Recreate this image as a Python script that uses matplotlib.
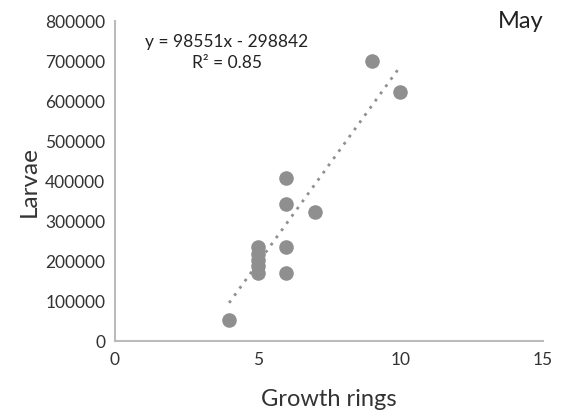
import numpy as np
import matplotlib.pyplot as plt

plt.rcParams['font.family'] = ['Lato', 'DejaVu Sans']

# data
rings = [4, 5, 5, 5, 5, 5, 6, 6, 6, 6, 7, 9, 10]
larvae = [52000, 170000, 187000, 203000, 218000, 235000,
          170000, 235000, 342000, 408000, 322000, 700000, 622000]
slope = 98551
intercept = -298842
r2 = 0.85

fig = plt.figure(figsize=(5.62, 4.14), dpi=100)
ax = fig.add_axes([115 / 562, 1 - 342 / 414, 428 / 562, 320 / 414])

ax.scatter(rings, larvae, s=110, color='#8f8f8f', zorder=3, linewidths=0)

xt = np.array([min(rings), max(rings)])
ax.plot(xt, slope * xt + intercept, linestyle=(0, (1, 2.2)), color='#8f8f8f', lw=2)

ax.set_xlim(0, 15)
ax.set_ylim(0, 800000)
ax.set_xticks([0, 5, 10, 15])
ax.set_yticks(np.arange(0, 800001, 100000))
ax.tick_params(length=0, labelsize=12.5, colors='#333333', pad=7)

for s in ['top', 'right']:
    ax.spines[s].set_visible(False)
for s in ['left', 'bottom']:
    ax.spines[s].set_color('#bbbbbb')
    ax.spines[s].set_linewidth(1.5)

ax.set_xlabel('Growth rings', fontsize=17, color='#333333', labelpad=15)
ax.set_ylabel('Larvae', fontsize=17.5, color='#333333', labelpad=4)

fig.text(227 / 562, 1 - 42 / 414, 'y = 98551x - 298842', ha='center', va='center',
         fontsize=12.5, color='#222222')
fig.text(227 / 562, 1 - 63 / 414, 'R² = 0.85', ha='center', va='center',
         fontsize=12.5, color='#222222')
fig.text(521 / 562, 1 - 21 / 414, 'May', ha='center', va='center',
         fontsize=17, color='#222222')

fig.savefig('out.png', dpi=100)
